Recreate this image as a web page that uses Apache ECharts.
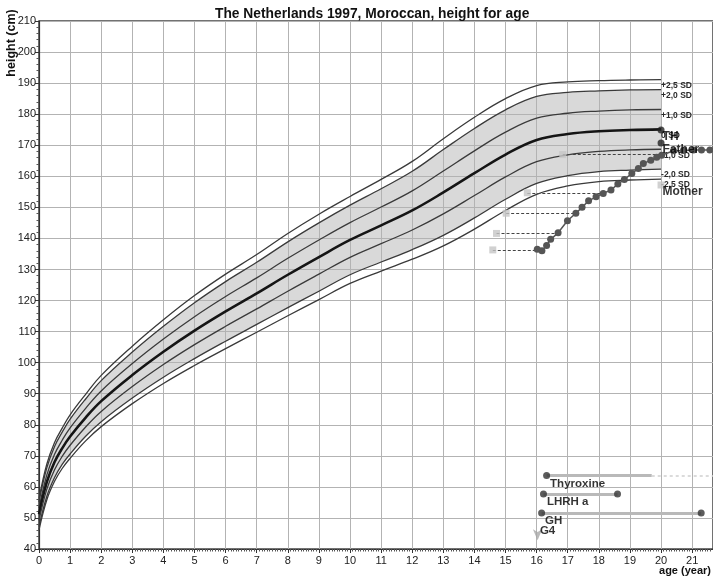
<!DOCTYPE html>
<html>
<head>
<meta charset="utf-8">
<script src="https://cdn.jsdelivr.net/npm/echarts@6/dist/echarts.min.js"></script>
<style>
  html, body { margin: 0; padding: 0; background: #fff; }
  #chart { width: 713px; height: 582px; }
</style>
</head>
<body>
<div id="chart"></div>
<script>
// Reference curves: height (cm) by age (years), Moroccan boys, NL 1997
const ages    = [0, 0.25, 0.5, 0.75, 1, 1.5, 2, 3, 4, 5, 6, 7, 8, 9, 10, 11, 12, 13, 14, 15, 16, 17, 18, 19, 20];
const plus25  = [56.2, 67.3, 74.3, 79.0, 83.2, 89.8, 95.9, 105.3, 113.8, 121.6, 128.5, 134.8, 141.6, 147.8, 153.5, 159.0, 164.8, 172.1, 179.0, 185.0, 189.2, 190.4, 190.8, 191.0, 191.1];
const plus20  = [55.2, 66.1, 73.0, 77.7, 81.8, 88.3, 94.2, 103.4, 111.7, 119.3, 126.1, 132.3, 138.9, 145.0, 150.7, 156.0, 161.6, 168.6, 175.4, 181.4, 185.7, 187.0, 187.5, 187.8, 187.9];
const plus10  = [53.2, 63.8, 70.5, 75.1, 79.0, 85.3, 90.9, 99.7, 107.6, 114.8, 121.3, 127.3, 133.6, 139.5, 145.1, 150.1, 155.3, 161.7, 168.2, 174.2, 178.7, 180.3, 181.0, 181.4, 181.5];
const median  = [51.2, 61.5, 68.0, 72.5, 76.2, 82.3, 87.6, 96.0, 103.5, 110.3, 116.5, 122.3, 128.3, 134.0, 139.5, 144.2, 149.0, 154.8, 161.0, 167.0, 171.7, 173.6, 174.5, 174.9, 175.1];
const minus10 = [49.2, 59.2, 65.5, 69.9, 73.4, 79.3, 84.3, 92.3, 99.4, 105.8, 111.7, 117.3, 123.0, 128.5, 133.9, 138.3, 142.7, 147.9, 153.8, 159.8, 164.7, 166.9, 168.0, 168.5, 168.7];
const minus20 = [47.2, 56.9, 63.0, 67.3, 70.6, 76.3, 81.0, 88.6, 95.3, 101.3, 106.9, 112.3, 117.7, 123.0, 128.3, 132.4, 136.4, 141.0, 146.6, 152.6, 157.7, 160.2, 161.5, 162.0, 162.3];
const minus25 = [46.2, 55.8, 61.8, 66.0, 69.2, 74.8, 79.4, 86.8, 93.3, 99.1, 104.5, 109.8, 115.1, 120.3, 125.5, 129.5, 133.3, 137.6, 143.0, 149.0, 154.2, 156.9, 158.3, 158.8, 159.1];
const sdLabels = ['+2,5 SD', '+2,0 SD', '+1,0 SD', '0 SD', '-1,0 SD', '-2,0 SD', '-2,5 SD'];

// Patient measurements
const patientAge    = [16.02, 16.17, 16.32, 16.45, 16.69, 16.99, 17.26, 17.46, 17.67, 17.91, 18.14, 18.39, 18.61, 18.82, 19.06, 19.27, 19.43, 19.67, 19.86, 20.02, 20.40, 20.72, 21.04, 21.30, 21.57];
const patientHeight = [136.5, 136.0, 137.7, 139.7, 141.8, 145.7, 148.1, 150.0, 152.1, 153.4, 154.5, 155.6, 157.5, 159.0, 160.9, 162.5, 164.1, 165.2, 166.1, 166.8, 168.2, 168.3, 168.5, 168.5, 168.5];

// Bone age readings: bone age, height, and the calendar age of the visit
const boneAge      = [14.59, 14.71, 15.02, 15.70, 16.84];
const boneHeight   = [136.3, 141.6, 148.1, 154.7, 167.0];
const boneVisitAge = [16.02, 16.69, 17.26, 18.14, 20.02];

// Parents and target height
const familyLabels  = ['TH', 'Father', 'Mother'];
const familyHeights = [174.9, 170.7, 157.2];
const familyAge     = 20;

// Treatments (age in years)
const treatmentNames   = ['Thyroxine', 'LHRH a', 'GH'];
const treatmentStart   = [16.32, 16.22, 16.16];
const treatmentEnd     = [19.70, 18.60, 21.29];
const treatmentOngoing = [true, false, false];
const g4Age = 16.03;

// ---- layout ----
const X_MAX = 21.67;
const TREATMENT_ROWS = [63.7, 57.7, 51.6];
const G4_ROW = 42.8;
const FONT = '"Liberation Sans", Arial, Helvetica, sans-serif';

const pairs = (xs, ys) => xs.map((x, i) => [x, ys[i]]);
const curveValues = [plus25, plus20, plus10, median, minus10, minus20, minus25];

const series = [];

// grey band between +2 SD and -2 SD: grey fill under +2 SD, white fill under -2 SD
series.push({
  type: 'line', data: pairs(ages, plus20), smooth: 0.4, symbol: 'none', silent: true, z: -1,
  lineStyle: { width: 0 }, areaStyle: { color: '#d9d9d9', opacity: 1, origin: 'start' }
});
series.push({
  type: 'line', data: pairs(ages, minus20), smooth: 0.4, symbol: 'none', silent: true, z: -1,
  lineStyle: { width: 0 }, areaStyle: { color: '#ffffff', opacity: 1, origin: 'start' }
});

// SD curves with their end labels
curveValues.forEach((vals, k) => {
  const isMedian = k === 3;
  series.push({
    type: 'line', name: sdLabels[k], data: pairs(ages, vals), smooth: 0.4, symbol: 'none', z: 4,
    lineStyle: { color: isMedian ? '#151515' : '#3a3a3a', width: isMedian ? 2.6 : 1.3 },
    endLabel: {
      show: true, formatter: sdLabels[k], distance: 0, offset: [0, 6],
      fontSize: 8.5, fontWeight: 'bold', color: '#2a2a2a', fontFamily: FONT
    }
  });
});

// bone age dashes
series.push({
  type: 'lines', coordinateSystem: 'cartesian2d', z: 5, silent: true,
  lineStyle: { color: '#444', width: 1, type: [3, 2], opacity: 1, curveness: 0 },
  data: boneAge.map((b, i) => ({ coords: [[b, boneHeight[i]], [boneVisitAge[i], boneHeight[i]]] }))
});
series.push({
  type: 'scatter', data: pairs(boneAge, boneHeight), symbol: 'rect', symbolSize: 7, z: 6,
  itemStyle: { color: '#c6c6c6' }
});

// patient growth
series.push({
  type: 'line', data: pairs(patientAge, patientHeight), symbol: 'circle', symbolSize: 7, z: 7,
  lineStyle: { color: '#555', width: 1.5 }, itemStyle: { color: '#555' }
});

// family heights
const familyStyle = [
  { symbol: 'circle', color: '#222' },
  { symbol: 'circle', color: '#222' },
  { symbol: 'rect', color: '#c6c6c6' }
];
familyLabels.forEach((name, i) => {
  series.push({
    type: 'scatter', data: [[familyAge, familyHeights[i]]], symbol: familyStyle[i].symbol, symbolSize: 7, z: 8,
    itemStyle: { color: familyStyle[i].color },
    label: {
      show: true, formatter: name, position: 'right', distance: -2, offset: [0, 7],
      fontSize: 12, fontWeight: 'bold', color: '#000', fontFamily: FONT
    }
  });
});

// treatment bars
series.push({
  type: 'lines', coordinateSystem: 'cartesian2d', z: 5, silent: true,
  lineStyle: { color: '#b9b9b9', width: 3, opacity: 1, curveness: 0 },
  data: treatmentNames.map((n, i) => ({ coords: [[treatmentStart[i], TREATMENT_ROWS[i]], [treatmentEnd[i], TREATMENT_ROWS[i]]] }))
});
series.push({
  type: 'lines', coordinateSystem: 'cartesian2d', z: 5, silent: true,
  lineStyle: { color: '#cfcfcf', width: 1.5, type: [3, 3], opacity: 1, curveness: 0 },
  data: treatmentNames.map((n, i) => treatmentOngoing[i]
    ? { coords: [[treatmentEnd[i], TREATMENT_ROWS[i]], [X_MAX, TREATMENT_ROWS[i]]] } : null).filter(Boolean)
});
series.push({
  type: 'scatter', symbol: 'circle', symbolSize: 7, z: 7, itemStyle: { color: '#333' },
  data: treatmentNames.map((n, i) => ({ value: [treatmentStart[i], TREATMENT_ROWS[i]], name: n })),
  label: {
    show: true, formatter: p => p.name, position: 'right', distance: 0, offset: [0, 8],
    fontSize: 11.5, fontWeight: 'bold', color: '#000', fontFamily: FONT
  }
});
series.push({
  type: 'scatter', symbol: 'circle', symbolSize: 7, z: 7, itemStyle: { color: '#333' },
  data: treatmentNames.map((n, i) => treatmentOngoing[i] ? null : [treatmentEnd[i], TREATMENT_ROWS[i]]).filter(Boolean)
});
series.push({
  type: 'scatter', symbol: 'arrow', symbolRotate: 180, symbolSize: [7, 11], z: 7,
  itemStyle: { color: '#a8a8a8' },
  data: [[g4Age, G4_ROW]],
  label: {
    show: true, formatter: 'G4', position: 'top', distance: 0, offset: [10, 8],
    fontSize: 11.5, fontWeight: 'bold', color: '#000', fontFamily: FONT
  }
});

const chart = echarts.init(document.getElementById('chart'), null, { renderer: 'canvas' });
chart.setOption({
  animation: false,
  backgroundColor: '#fff',
  title: {
    text: 'The Netherlands 1997, Moroccan, height for age',
    left: 210, top: 2,
    textStyle: { fontSize: 13.8, fontWeight: 'bold', color: '#111', fontFamily: FONT }
  },
  grid: {
    left: 39, right: 0, top: 21, bottom: 33, containLabel: false, outerBoundsMode: 'none',
    show: true, borderColor: '#444', borderWidth: 1.5, backgroundColor: 'transparent'
  },
  xAxis: {
    type: 'value', min: 0, max: X_MAX, interval: 1,
    axisLine: { show: true, onZero: false, lineStyle: { color: '#333', width: 1.2 } },
    axisTick: { show: true, length: 4, lineStyle: { color: '#333' } },
    minorTick: { show: true, splitNumber: 12, length: 2.5, lineStyle: { color: '#555' } },
    axisLabel: { color: '#222', fontSize: 11, fontFamily: FONT, margin: 6, showMaxLabel: false },
    splitLine: { show: true, lineStyle: { color: '#b3b3b3', width: 1 } },
    minorSplitLine: { show: false }
  },
  yAxis: {
    type: 'value', min: 40, max: 210, interval: 10,
    axisLine: { show: true, onZero: false, lineStyle: { color: '#333', width: 1.2 } },
    axisTick: { show: true, length: 4, lineStyle: { color: '#333' } },
    minorTick: { show: true, splitNumber: 5, length: 2.5, lineStyle: { color: '#555' } },
    axisLabel: { color: '#222', fontSize: 11, fontFamily: FONT, margin: 3 },
    splitLine: { show: true, lineStyle: { color: '#b3b3b3', width: 1 } }
  },
  graphic: [
    {
      type: 'text', x: 12, y: 43, rotation: Math.PI / 2,
      style: { text: 'height (cm)', fill: '#111', font: 'bold 12.5px ' + FONT, textAlign: 'center', textVerticalAlign: 'middle' }
    },
    {
      type: 'text', x: 711, y: 571,
      style: { text: 'age (year)', fill: '#111', font: 'bold 11px ' + FONT, textAlign: 'right', textVerticalAlign: 'middle' }
    }
  ],
  series: series
});
</script>
</body>
</html>
